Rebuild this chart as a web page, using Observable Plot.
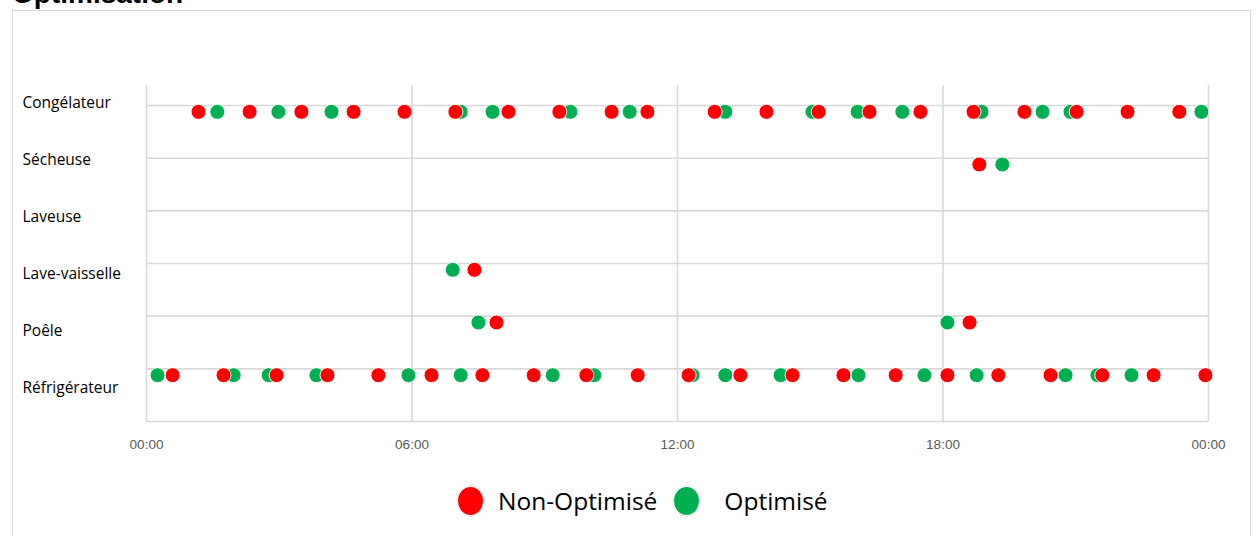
<!DOCTYPE html>
<html><head><meta charset="utf-8">
<script src="https://cdn.jsdelivr.net/npm/d3@7"></script>
<script src="https://cdn.jsdelivr.net/npm/@observablehq/plot@0.6"></script>
<style>
body{margin:0;background:#fff;width:1257px;height:536px;overflow:hidden;position:relative}
#title{position:absolute;left:12px;top:-20px;font:bold 28px "Liberation Sans",Arial,sans-serif;line-height:28px;color:#000;white-space:nowrap}
#frame{position:absolute;left:12px;top:10px;width:1239px;height:560px;border:1px solid #d9d9d9;box-sizing:border-box}
#chart{position:absolute;left:0;top:0}
#legend{position:absolute;top:485px;left:457px;display:flex;align-items:center;font-family:"Open Sans",sans-serif;font-size:24.5px;color:#000;white-space:nowrap}
.sw{width:27px;height:30px;border-radius:50%;border:1px solid #fff;box-shadow:0 0 0 1px #eee;display:inline-block;box-sizing:border-box}
.lab{line-height:32px}
.lab0{margin:0 16px 0 14px}
.lab1{margin:0 0 0 24px}
</style></head>
<body>
<div id="title"></div>
<div id="frame"></div>
<div id="chart"></div>
<div id="legend"></div>
<script>
const titleText = "Optimisation";
// rows from bottom to top
const categories = ["Réfrigérateur","Poêle","Lave-vaisselle","Laveuse","Sécheuse","Congélateur"];
const series = ["Non-Optimisé","Optimisé"];
const seriesColors = ["#ff0000","#00b050"];
const tickHours = [0,6,12,18,24];
const tickLabels = ["00:00","06:00","12:00","18:00","00:00"];

// event times in hours of the day
const refrigerateurNonOpt = [0.59,1.74,2.94,4.09,5.24,6.44,7.59,8.75,9.94,11.10,12.25,13.42,14.60,15.75,16.93,18.10,19.25,20.43,21.60,22.76,23.93];
const refrigerateurOpt = [0.25,1.97,2.76,3.84,5.92,7.10,9.18,10.12,12.34,13.08,14.33,16.09,17.58,18.76,20.77,21.49,22.26];
const poeleNonOpt = [7.91,18.60];
const poeleOpt = [7.50,18.10];
const laveVaisselleNonOpt = [7.41];
const laveVaisselleOpt = [6.92];
const laveuseNonOpt = [];
const laveuseOpt = [];
const secheuseNonOpt = [18.82];
const secheuseOpt = [19.34];
const congelateurNonOpt = [1.175,2.33,3.50,4.68,5.83,6.98,8.18,9.33,10.51,11.32,12.84,14.01,15.19,16.34,17.49,18.69,19.84,21.02,22.17,23.34];
const congelateurOpt = [1.60,2.98,4.18,7.10,7.82,9.58,10.92,13.08,15.05,16.07,17.08,18.87,20.25,20.88,23.84];

const nonOpt = [refrigerateurNonOpt,poeleNonOpt,laveVaisselleNonOpt,laveuseNonOpt,secheuseNonOpt,congelateurNonOpt];
const opt = [refrigerateurOpt,poeleOpt,laveVaisselleOpt,laveuseOpt,secheuseOpt,congelateurOpt];

const rows = [];
[nonOpt, opt].forEach((arr, s) => arr.forEach((times, i) => times.forEach(t => rows.push({t, row: i, series: series[s]}))));
const greenRows = rows.filter(d => d.series === series[1]);
const redRows = rows.filter(d => d.series === series[0]);

const dotOffset = 0.88;
const labelRows = categories.map((c, i) => ({c, y: 0.645 + 1.079 * i}));

document.getElementById("title").textContent = titleText;

const plot = Plot.plot({
  width: 1257, height: 470,
  marginLeft: 146, marginRight: 49, marginTop: 85, marginBottom: 49,
  style: {background: "transparent", fontFamily: "'Liberation Sans', Arial, sans-serif", overflow: "visible"},
  x: {domain: [0, 24]},
  y: {domain: [0, 6.38]},
  color: {domain: series, range: seriesColors},
  marks: [
    Plot.ruleY(d3.range(categories.length + 1), {x1: 0, x2: 24, stroke: "#d9d9d9", strokeWidth: 1.6}),
    Plot.ruleX(tickHours, {y1: 0, y2: 6.38, stroke: "#d9d9d9", strokeWidth: 1.6}),
    Plot.axisX(tickHours, {tickSize: 0, tickPadding: 18, tickFormat: (d, i) => tickLabels[i], fill: "#595959", fontSize: 13.5, label: null}),
    Plot.axisY(labelRows.map(d => d.y), {tickSize: 0, tickPadding: 0, textAnchor: "start", dx: -124, tickFormat: (d, i) => labelRows[i].c, fill: "#000", fontSize: 15.5, fontFamily: "'Open Sans', sans-serif", label: null}),
    Plot.dot(greenRows, {x: "t", y: d => d.row + dotOffset, r: 7.5, fill: "series", stroke: "#fff", strokeWidth: 1}),
    Plot.dot(redRows, {x: "t", y: d => d.row + dotOffset, r: 7.5, fill: "series", stroke: "#fff", strokeWidth: 1})
  ]
});
document.getElementById("chart").appendChild(plot);

const leg = document.getElementById("legend");
series.forEach((s, i) => {
  const sw = document.createElement("span");
  sw.className = "sw"; sw.style.background = seriesColors[i];
  const lab = document.createElement("span");
  lab.className = "lab lab" + i; lab.textContent = s;
  leg.appendChild(sw); leg.appendChild(lab);
});
</script>
</body></html>
